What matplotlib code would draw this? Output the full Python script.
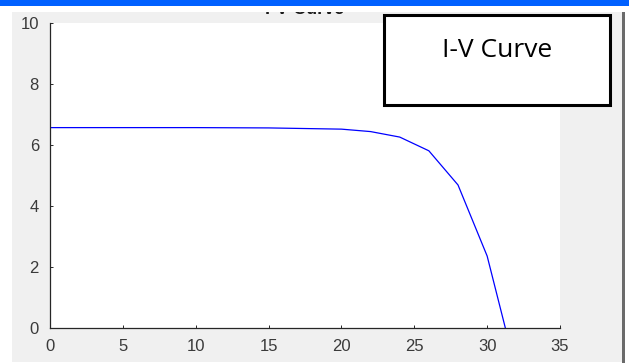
import matplotlib
matplotlib.use("Agg")
import matplotlib.pyplot as plt
from matplotlib.patches import Rectangle

# I-V characteristic of the PV module
voltage = [0, 5, 10, 15, 20, 22, 24, 26, 28, 30, 31.25]
current = [6.57, 6.57, 6.57, 6.56, 6.52, 6.44, 6.26, 5.81, 4.69, 2.36, 0.0]

x_ticks = [0, 5, 10, 15, 20, 25, 30, 35]
y_ticks = [0, 2, 4, 6, 8, 10]
title_text = "I-V Curve"
box_text = "I-V Curve"

W, H = 629, 363
fig = plt.figure(figsize=(W / 100, H / 100), dpi=100, facecolor="white")


def frame(x0, y0, x1, y1):
    """Pixel box (top-left origin) to figure-fraction rectangle args."""
    return (x0 / W, 1 - y1 / H), (x1 - x0) / W, (y1 - y0) / H


# window background
xy, w, h = frame(12, 12, 622, 362)
fig.patches.append(Rectangle(xy, w, h, transform=fig.transFigure,
                             facecolor="#f0f0f0", edgecolor="none", zorder=-5))
xy, w, h = frame(622, 12, 624.5, 363)
fig.patches.append(Rectangle(xy, w, h, transform=fig.transFigure,
                             facecolor="#6a6a6a", edgecolor="none", zorder=-4))

# plot area
ax = fig.add_axes([50 / W, 1 - 328 / H, (560 - 50) / W, (328 - 23) / H])
ax.plot(voltage, current, color="#0000ff", linewidth=0.9)
ax.set_xlim(0, 35)
ax.set_ylim(0, 10)
ax.set_xticks(x_ticks)
ax.set_yticks(y_ticks)
ax.spines["top"].set_visible(False)
ax.spines["right"].set_visible(False)
for s in ("left", "bottom"):
    ax.spines[s].set_color("#262626")
    ax.spines[s].set_linewidth(0.9)
ax.tick_params(direction="in", length=2.5, width=0.7, color="#262626",
               labelcolor="#3a3a3a", labelsize=12, pad=8)
for lbl in ax.get_xticklabels() + ax.get_yticklabels():
    lbl.set_fontfamily("Liberation Sans")

# title (mostly hidden under the window header)
fig.text(305 / W, 1 - 13.5 / H, title_text, ha="center", va="baseline",
         fontsize=13, fontweight="bold", family="Liberation Sans",
         color="#1a1a1a", zorder=1)
xy, w, h = frame(0, 0, W, 11.5)
fig.patches.append(Rectangle(xy, w, h, transform=fig.transFigure,
                             facecolor="white", edgecolor="none", zorder=2))
xy, w, h = frame(0, 0, W, 6)
fig.patches.append(Rectangle(xy, w, h, transform=fig.transFigure,
                             facecolor="#0060ff", edgecolor="none", zorder=3))

# annotation box
xy, w, h = frame(384, 15, 610, 105)
fig.patches.append(Rectangle(xy, w, h, transform=fig.transFigure,
                             facecolor="white", edgecolor="black",
                             linewidth=2.2, zorder=5))
fig.text(497 / W, 1 - 57 / H, box_text, ha="center", va="baseline",
         fontsize=19, family="Open Sans", color="black", zorder=6)

fig.savefig("out.png", dpi=100, facecolor="white")
